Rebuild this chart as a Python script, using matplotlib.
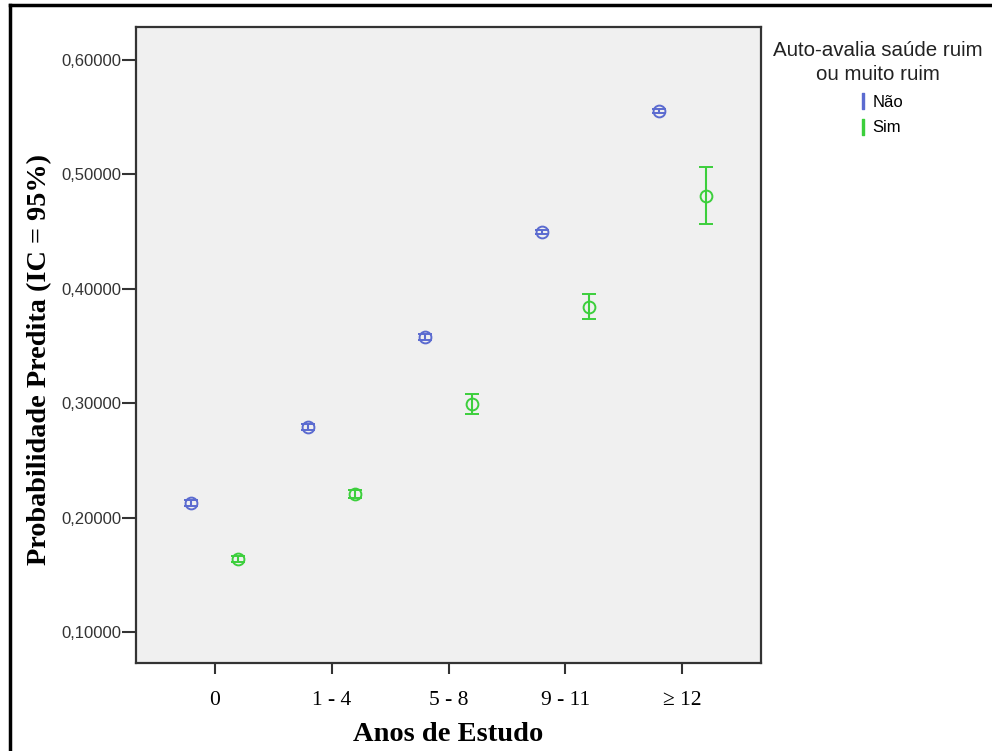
import matplotlib
matplotlib.use("Agg")
import matplotlib.pyplot as plt
from matplotlib.lines import Line2D

categories = ["0", "1 - 4", "5 - 8", "9 - 11", "\u2265 12"]

nao_mean = [0.2128, 0.2792, 0.3579, 0.4497, 0.5555]
nao_lo   = [0.2100, 0.2768, 0.3557, 0.4478, 0.5535]
nao_hi   = [0.2156, 0.2816, 0.3601, 0.4516, 0.5575]

sim_mean = [0.1638, 0.2206, 0.2993, 0.3841, 0.4810]
sim_lo   = [0.1608, 0.2173, 0.2905, 0.3736, 0.4566]
sim_hi   = [0.1668, 0.2239, 0.3080, 0.3955, 0.5065]

BLUE = "#5b6bd0"
GREEN = "#3ccf3c"

fig = plt.figure(figsize=(9.92, 7.51), dpi=100)
ax = fig.add_axes([136 / 992, 1 - 663 / 751, (761 - 136) / 992, (663 - 27) / 751])
ax.set_facecolor("#f0f0f0")

xs = list(range(len(categories)))
for off, mean, lo, hi, col in [(-0.2, nao_mean, nao_lo, nao_hi, BLUE),
                               (0.2, sim_mean, sim_lo, sim_hi, GREEN)]:
    err = [[m - l for m, l in zip(mean, lo)], [h - m for m, h in zip(mean, hi)]]
    ax.errorbar([x + off for x in xs], mean, yerr=err, fmt="o", mfc="none",
                mec=col, ms=8.5, mew=1.4, ecolor=col, elinewidth=1.5,
                capsize=4.7, capthick=1.5)

ax.set_xlim(-0.675, 4.675)
ax.set_ylim(0.0729, 0.6289)
ax.set_xticks(xs)
ax.set_xticklabels(categories, family="Liberation Serif", fontsize=15.5)
yt = [0.1, 0.2, 0.3, 0.4, 0.5, 0.6]
ax.set_yticks(yt)
ax.set_yticklabels([f"{v:.5f}".replace(".", ",") for v in yt],
                   family="Liberation Sans", fontsize=12, color="#333333")
ax.tick_params(axis="x", length=8, width=1.5, color="#333333", pad=12)
ax.tick_params(axis="y", length=10, width=1.5, color="#333333", pad=0.5)
for s in ax.spines.values():
    s.set_linewidth(1.6)
    s.set_color("#333333")

ax.set_xlabel("Anos de Estudo", family="Liberation Serif", fontweight="bold",
              fontsize=20.5, labelpad=9)
ax.set_ylabel("Probabilidade Predita (IC = 95%)", family="Liberation Serif",
              fontweight="bold", fontsize=20.3)
ax.yaxis.set_label_coords(-0.134, 0.477)

handles = [Line2D([], [], color=BLUE, marker=r"$\mathrm{I}$", ls="none", ms=11),
           Line2D([], [], color=GREEN, marker=r"$\mathrm{I}$", ls="none", ms=11)]
leg = fig.legend(handles, ["N\u00e3o", "Sim"], title="Auto-avalia sa\u00fade ruim\nou muito ruim",
                 loc="upper center", bbox_to_anchor=(878 / 992, 1 - 26 / 751),
                 frameon=False, handletextpad=0.0, labelspacing=0.65,
                 handlelength=1.2, prop={"family": "Liberation Sans", "size": 12})
title = leg.get_title()
title.set_fontfamily("Liberation Sans")
title.set_fontsize(14.8)
title.set_multialignment("center")
title.set_linespacing(1.3)
title.set_color("#222222")
leg._legend_box.sep = 8

# outer frame of the original figure (left and top edges visible)
fig.add_artist(Line2D([10 / 992, 10 / 992], [0, 1 - 5 / 751], color="black", lw=2.5,
                      transform=fig.transFigure))
fig.add_artist(Line2D([10 / 992, 990 / 992], [1 - 5 / 751, 1 - 5 / 751], color="black", lw=2.5,
                      transform=fig.transFigure))

fig.savefig("out.png", dpi=100)
